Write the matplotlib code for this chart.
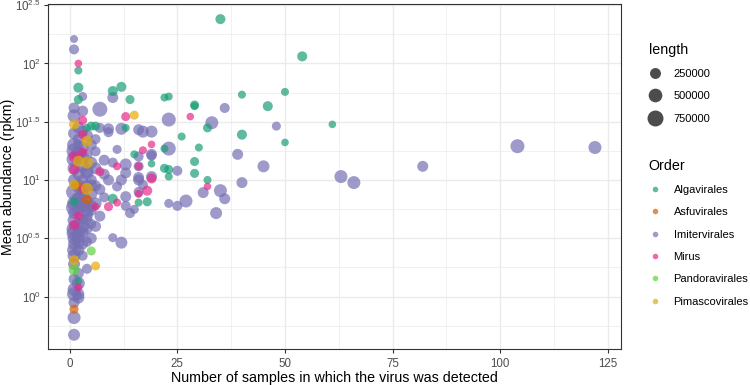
import matplotlib
matplotlib.use("Agg")
import matplotlib.pyplot as plt
import numpy as np
from matplotlib.lines import Line2D
from matplotlib.ticker import FixedLocator, NullFormatter

plt.rcParams['font.family'] = ['Liberation Sans', 'DejaVu Sans']
plt.rcParams['mathtext.fontset'] = 'custom'
plt.rcParams['mathtext.rm'] = 'Liberation Sans'
plt.rcParams['mathtext.it'] = 'Liberation Sans:italic'
plt.rcParams['mathtext.default'] = 'regular'

# ---- data (samples, mean abundance rpkm, genome length) ----
orders = ['Algavirales', 'Asfuvirales', 'Imitervirales', 'Mirus', 'Pandoravirales', 'Pimascovirales']
order_colors = ['#1B9E77', '#D95F02', '#7570B3', '#E7298A', '#5FD23F', '#E6AB02']

alga_samples = [35, 54, 2, 2, 2, 10, 12, 14, 22, 23, 29, 29, 40, 50, 46, 61, 50, 32, 40, 26,
                30, 29, 29, 32, 22, 22, 23, 23, 19, 15, 13, 4, 5, 6, 18, 16, 10, 1, 2]
alga_abund = [240, 115, 87, 62, 49, 58, 63, 49, 51, 52, 44, 43, 54, 57, 43, 30, 21, 28, 24.5, 23.6,
              19, 14.4, 11.4, 10, 18.6, 12.6, 12.3, 10.7, 13.8, 16.6, 28, 28, 29, 29, 6.5, 6.4, 6.9, 6.5, 1.35]
alga_len = [180000, 180000, 45000, 180000, 110000, 180000, 180000, 110000, 45000, 45000,
            110000, 45000, 45000, 45000, 180000, 20000, 20000, 110000, 180000, 45000,
            45000, 110000, 110000, 45000, 45000, 110000, 110000, 45000, 20000, 45000,
            45000, 45000, 110000, 110000, 110000, 45000, 180000, 110000, 20000]

asfu_samples = [1, 2, 4]
asfu_abund = [0.78, 8.9, 6.8]
asfu_len = [110000, 110000, 180000]

imit_samples = [1, 1, 3, 1, 3, 7, 10, 36, 48, 33, 23, 19, 17, 16, 12, 9, 7, 6, 6, 11,
                19, 23, 39, 45, 25, 40, 31, 35, 36, 34, 23, 25, 27, 63, 66, 82, 104, 122, 10, 12,
                4, 1, 1, 2, 1, 19, 19, 16, 16, 13, 10, 9, 12, 16, 8, 13, 16, 11, 7, 13,
                16, 14, 15, 13, 4, 7, 9, 17, 2,
                1, 1, 1, 1, 1, 1, 1, 1, 1, 1, 1, 1, 1, 1, 1, 1, 1, 1,
                2, 2, 2, 2, 2, 2, 2, 2, 2, 2, 2, 2, 2,
                3, 3, 3, 3, 3, 3, 3, 3, 3, 3,
                4, 4, 4, 4, 4, 4, 4, 4,
                5, 5, 5, 5, 5, 5, 5,
                6, 6, 6, 6, 8, 8,
                1, 1, 1, 2, 2, 2, 3, 3, 3, 4, 4, 5, 5, 1, 2, 3]
imit_abund = [162, 132, 52, 41.5, 39, 40.5, 51, 41.5, 29, 31, 33, 26, 26, 27, 27.5, 25.7, 28, 22.4, 17.6, 18.3,
              16.6, 18.6, 16.6, 13.1, 12.0, 9.5, 7.8, 8.1, 6.9, 5.2, 6.3, 6.0, 6.6, 10.7, 9.5, 13.1, 19.5, 19, 3.2, 2.9,
              1.73, 0.47, 1.15, 0.98, 0.89, 16.2, 10.7, 15.9, 13.1, 13.6, 14.1, 10, 10, 10, 14.8, 11.5, 10.5, 8.8, 8.3, 7.2,
              7.9, 5.2, 5.6, 6.0, 4.6, 4.9, 27.5, 9.1, 22.4,
              35.5, 25.1, 20, 15.1, 12.6, 10, 7.9, 6.3, 5.2, 4.5, 3.8, 3.16, 2.82, 2.51, 2.24, 1.9, 1.41, 0.66,
              28.2, 20, 15.8, 11.2, 8.9, 7.1, 5.6, 4.2, 3.55, 3.0, 2.51, 1.58, 1.05,
              26.3, 19.1, 13.2, 10, 7.6, 6.0, 4.6, 3.55, 2.82, 2.24,
              24, 16.6, 12.0, 8.9, 6.6, 5.0, 3.8, 2.95,
              20, 14.1, 10, 7.6, 5.5, 4.2, 3.16,
              12.6, 8.9, 6.3, 4.0, 11.2, 7.1,
              17.8, 5.8, 3.5, 17.0, 6.8, 3.3, 15.5, 6.2, 4.0, 11.5, 5.5, 9.0, 6.0, 1.05, 1.3, 8.2]
imit_len = [43000, 180000, 110000, 255000, 255000, 640000, 255000, 180000, 110000, 433000,
            533000, 340000, 340000, 255000, 340000, 180000, 180000, 180000, 180000, 110000,
            255000, 533000, 255000, 340000, 180000, 255000, 255000, 433000, 255000, 340000,
            110000, 180000, 433000, 433000, 433000, 255000, 533000, 433000, 110000, 340000,
            180000, 340000, 433000, 340000, 255000, 180000, 255000, 180000, 180000, 340000,
            180000, 255000, 255000, 255000, 255000, 255000, 255000, 180000, 255000, 255000,
            180000, 180000, 110000, 180000, 255000, 255000, 255000, 180000, 255000,
            433000, 340000, 533000, 640000, 433000, 340000, 755000, 533000, 340000, 433000,
            640000, 433000, 340000, 533000, 433000, 340000, 255000, 433000,
            340000, 255000, 433000, 340000, 533000, 255000, 433000, 340000, 255000, 433000,
            340000, 255000, 340000,
            255000, 340000, 433000, 255000, 340000, 433000, 255000, 340000, 255000, 180000,
            340000, 255000, 433000, 340000, 255000, 340000, 255000, 180000,
            255000, 340000, 255000, 340000, 255000, 180000, 255000,
            340000, 255000, 340000, 255000, 255000, 180000,
            640000, 755000, 640000, 533000, 640000, 533000, 433000, 533000, 433000, 433000,
            433000, 340000, 340000, 533000, 433000, 340000]

mirus_samples = [2, 13, 28, 3, 3, 19, 17, 16, 11, 7, 19, 18, 16, 32, 11, 9, 6, 1, 3, 1,
                 3, 1, 2, 2]
mirus_abund = [100, 35, 35, 32.5, 24.5, 20.2, 18, 13.1, 13.1, 11.8, 10.3, 8.1, 7.6, 8.8, 6.4, 5.9, 5.9, 15.9, 17.3, 12.3,
               8.3, 4.1, 4.9, 1.2]
mirus_len = [20000, 110000, 20000, 110000, 110000, 20000, 45000, 45000, 45000, 110000,
             180000, 180000, 45000, 20000, 45000, 110000, 45000, 255000, 110000, 180000,
             45000, 180000, 110000, 45000]

pando_samples = [5, 1]
pando_abund = [2.46, 1.70]
pando_len = [110000, 255000]

pimas_samples = [15, 1, 4, 2, 4, 1, 4, 1, 6]
pimas_abund = [36, 30, 21.5, 14.5, 14.1, 9.1, 8.4, 2.05, 1.83]
pimas_len = [110000, 180000, 255000, 255000, 340000, 180000, 340000, 180000, 110000]

size_breaks = [250000, 500000, 750000]
x_ticks = [0, 25, 50, 75, 100, 125]
y_tick_exp = [0, 0.5, 1, 1.5, 2, 2.5]


def point_area(length):
    return 27 + 1.4e-4 * np.asarray(length, dtype=float)


fig = plt.figure(figsize=(7.5, 3.85), dpi=100)
ax = fig.add_axes([48 / 750, 1 - 349 / 385, 573 / 750, 345 / 385])

series = [
    (imit_samples, imit_abund, imit_len, order_colors[2]),
    (alga_samples, alga_abund, alga_len, order_colors[0]),
    (asfu_samples, asfu_abund, asfu_len, order_colors[1]),
    (mirus_samples, mirus_abund, mirus_len, order_colors[3]),
    (pando_samples, pando_abund, pando_len, order_colors[4]),
    (pimas_samples, pimas_abund, pimas_len, order_colors[5]),
]
for xs, ys, ls, col in series:
    ax.scatter(xs, ys, s=point_area(ls), color=col, alpha=0.7, edgecolors='none', zorder=3)

ax.set_yscale('log')
ax.set_xlim(-5.05, 128.05)
ax.set_ylim(10 ** -0.45, 10 ** 2.51)

ax.set_xticks(x_ticks)
ax.xaxis.set_minor_locator(FixedLocator([12.5, 37.5, 62.5, 87.5, 112.5]))
ax.set_yticks([10 ** e for e in y_tick_exp])
ax.set_yticklabels(['$10^{%g}$' % e for e in y_tick_exp])
ax.yaxis.set_minor_locator(FixedLocator([10 ** e for e in [-0.25, 0.25, 0.75, 1.25, 1.75, 2.25]]))
ax.yaxis.set_minor_formatter(NullFormatter())

ax.grid(which='major', color='#EBEBEB', linewidth=1.0, zorder=0)
ax.grid(which='minor', color='#EBEBEB', linewidth=0.5, zorder=0)
ax.set_axisbelow(True)
ax.tick_params(which='major', length=3, width=0.8, color='#333333', labelcolor='#4D4D4D',
               labelsize=8.3, pad=2)
ax.tick_params(axis='x', which='major', pad=3.5)
ax.tick_params(which='minor', length=0)
for sp in ax.spines.values():
    sp.set_color('#333333')
    sp.set_linewidth(0.8)

ax.set_xlabel('Number of samples in which the virus was detected', fontsize=10.3, labelpad=1)
ax.set_ylabel('Mean abundance (rpkm)', fontsize=10.3)
ax.yaxis.set_label_coords((15 - 48) / 573, 0.5)

# legends
size_handles = [Line2D([], [], ls='', marker='o', color='black', alpha=0.7,
                       markeredgewidth=0, markersize=np.sqrt(point_area(b))) for b in size_breaks]
leg1 = fig.legend(size_handles, [str(b) for b in size_breaks], title='length',
                  loc='upper left', bbox_to_anchor=(643 / 750, 1 - 37 / 385), frameon=False,
                  fontsize=8.0, title_fontsize=10.3, alignment='left', borderpad=0,
                  handlelength=1.2, handletextpad=1.05, labelspacing=1.11)

order_handles = [Line2D([], [], ls='', marker='o', color=c, alpha=0.7,
                        markeredgewidth=0, markersize=4) for c in order_colors]
leg2 = fig.legend(order_handles, orders, title='Order',
                  loc='upper left', bbox_to_anchor=(643 / 750, 1 - 153 / 385), frameon=False,
                  fontsize=8.0, title_fontsize=10.3, alignment='left', borderpad=0,
                  handlelength=1.2, handletextpad=1.05, labelspacing=1.11)

fig.savefig('out.png', dpi=100)
